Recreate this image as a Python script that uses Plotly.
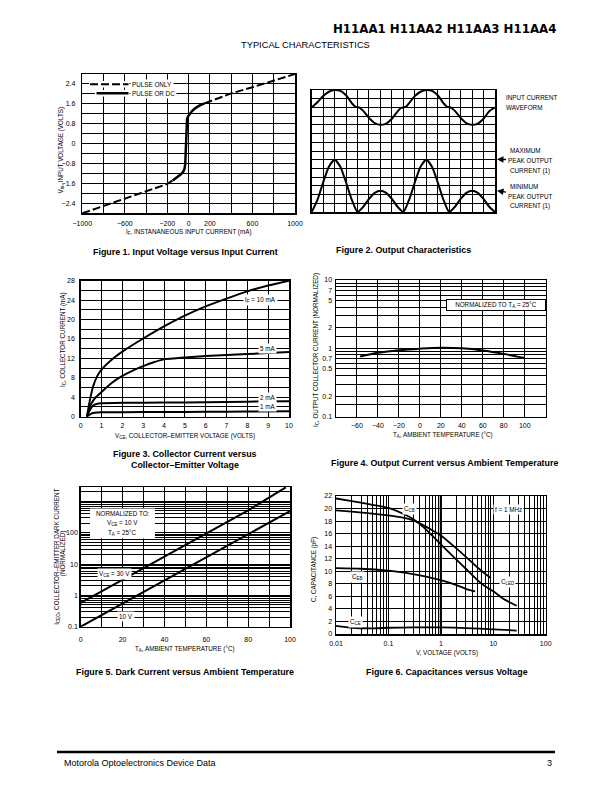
import plotly.graph_objects as go

W, H = 612, 792
FONT = "Liberation Sans, Arial, Helvetica, sans-serif"

# ---------------- data ----------------
# Figure 1: input voltage vs input current
f1_pulse_left_i = [-1000, -800, -600, -400, -200, -150]
f1_pulse_left_v = [-2.8, -2.5, -2.21, -1.91, -1.62, -1.48]
f1_pulse_right_i = [150, 200, 400, 600, 800, 1000]
f1_pulse_right_v = [1.62, 1.7, 2.02, 2.27, 2.53, 2.8]
f1_dc_i = [-150, -100, -70, -50, -38, -32, -29, -27, -25, -22, -15, -5, 10, 30, 60, 100, 150]
f1_dc_v = [-1.48, -1.33, -1.22, -1.12, -1.0, -0.8, -0.4, 0.0, 0.4, 0.75, 0.98, 1.1, 1.2, 1.3, 1.42, 1.53, 1.62]
f1_x_ticks = [-1000, -600, -200, 0, 200, 600, 1000]
f1_x_labels = ["−1000", "−600", "−200", "0", "200", "600", "1000"]
f1_x_grid = [-1000, -800, -600, -400, -200, 0, 200, 400, 600, 800, 1000]
f1_y_ticks = [-2.4, -1.6, -0.8, 0, 0.8, 1.6, 2.4]
f1_y_labels = ["−2.4", "−1.6", "−0.8", "0", "0.8", "1.6", "2.4"]
f1_y_grid = [-2.8, -2.4, -2.0, -1.6, -1.2, -0.8, -0.4, 0, 0.4, 0.8, 1.2, 1.6, 2.0, 2.4, 2.8]

# Figure 2: output characteristics (grid divisions)
f2_in_x = [0, 0.5, 1, 1.5, 2, 2.5, 3, 3.5, 3.8, 4.2, 4.5, 5, 5.5, 6, 6.5, 7, 7.5, 7.8, 8.2, 8.5,
           9, 9.5, 10, 10.5, 11, 11.5, 11.8, 12.2, 12.5, 13, 13.5, 14, 14.5, 15, 15.5, 16]
f2_in_y = [12.0, 12.6, 13.3, 13.8, 14.0, 13.9, 13.4, 12.5, 12.1, 11.95, 11.6, 10.8, 10.2, 10.0, 10.15, 10.7, 11.55, 11.95, 12.05, 12.5,
           13.3, 13.8, 14.0, 13.9, 13.4, 12.5, 12.1, 11.95, 11.6, 10.8, 10.2, 10.0, 10.15, 10.7, 11.55, 12.0]
f2_out_x = [0, 0.5, 1, 1.5, 2, 2.5, 3, 3.5, 4, 4.5, 5, 5.5, 6, 6.5, 7, 7.5, 8,
            8.5, 9, 9.5, 10, 10.5, 11, 11.5, 12, 12.5, 13, 13.5, 14, 14.5, 15, 15.5, 16]
f2_out_y = [0, 1.4, 3.4, 5.2, 6.0, 5.2, 3.4, 1.4, 0, 0.6, 1.5, 2.2, 2.45, 2.2, 1.5, 0.6, 0,
            1.4, 3.4, 5.2, 6.0, 5.2, 3.4, 1.4, 0, 0.6, 1.5, 2.2, 2.45, 2.2, 1.5, 0.6, 0]
f2_x_grid = list(range(0, 17))
f2_y_grid = list(range(0, 15))

# Figure 3: collector current vs collector-emitter voltage
f3_v_10 = [0.3, 0.4, 0.5, 0.6, 0.8, 1, 1.5, 2, 3, 4, 5, 6, 7, 8, 9, 10]
f3_i_10 = [0, 2.5, 4.6, 6.3, 8.4, 9.7, 11.8, 13.4, 16.1, 18.6, 20.8, 22.7, 24.3, 25.8, 27.0, 28.0]
f3_v_5 = [0.3, 0.4, 0.5, 0.7, 1, 1.5, 2, 2.5, 3, 3.5, 4, 5, 6, 7, 8, 9, 10]
f3_i_5 = [0, 1.5, 2.6, 3.9, 5.1, 7.0, 8.4, 9.5, 10.4, 11.2, 11.8, 12.2, 12.5, 12.7, 12.9, 13.1, 13.3]
f3_v_2 = [0.3, 0.4, 0.5, 0.6, 0.8, 1, 2, 4, 6, 8, 10]
f3_i_2 = [0, 1.0, 1.8, 2.3, 2.65, 2.75, 2.85, 2.9, 3.0, 3.1, 3.2]
f3_v_1 = [0.3, 0.4, 0.5, 0.6, 0.8, 1, 2, 4, 6, 8, 10]
f3_i_1 = [0, 0.35, 0.6, 0.75, 0.85, 0.9, 0.93, 0.97, 1.0, 1.05, 1.1]
f3_x_ticks = [0, 1, 2, 3, 4, 5, 6, 7, 8, 9, 10]
f3_x_labels = ["0", "1", "2", "3", "4", "5", "6", "7", "8", "9", "10"]
f3_y_ticks = [0, 4, 8, 12, 16, 20, 24, 28]
f3_y_labels = ["0", "4", "8", "12", "16", "20", "24", "28"]
f3_y_grid = [0, 2, 4, 6, 8, 10, 12, 14, 16, 18, 20, 22, 24, 26, 28]

# Figure 4: output current vs ambient temperature
f4_temp = [-57, -40, -20, 0, 20, 40, 60, 80, 100]
f4_ic = [0.76, 0.86, 0.94, 0.99, 1.02, 1.0, 0.93, 0.83, 0.72]
f4_x_ticks = [-60, -40, -20, 0, 20, 40, 60, 80, 100]
f4_x_labels = ["−60", "−40", "−20", "0", "20", "40", "60", "80", "100"]
f4_x_grid = [-80, -60, -40, -20, 0, 20, 40, 60, 80, 100, 120]
f4_y_ticks = [0.1, 0.2, 0.5, 0.7, 1, 2, 5, 7, 10]
f4_y_labels = ["0.1", "0.2", "0.5", "0.7", "1", "2", "5", "7", "10"]
f4_y_grid = [0.1, 0.15, 0.2, 0.3, 0.4, 0.5, 0.6, 0.7, 0.8, 0.9, 1, 1.5, 2, 3, 4, 5, 6, 7, 8, 9, 10]

# Figure 5: dark current vs ambient temperature
f5_temp_30 = [0, 20, 40, 60, 80, 98]
f5_i_30 = [0.58, 3.2, 17.5, 95, 520, 2800]
f5_temp_10 = [0, 20, 40, 60, 80, 100]
f5_i_10 = [0.1, 0.55, 3.0, 16, 90, 490]
f5_x_ticks = [0, 20, 40, 60, 80, 100]
f5_x_labels = ["0", "20", "40", "60", "80", "100"]
f5_x_grid = [0, 10, 20, 30, 40, 50, 60, 70, 80, 90, 100]
f5_y_ticks = [0.1, 1, 10, 100]
f5_y_labels = ["0.1", "1", "10", "100"]
f5_y_decades = [0.1, 1, 10, 100, 1000]

# Figure 6: capacitances vs voltage
f6_v_cb = [0.01, 0.02, 0.05, 0.1, 0.2, 0.3, 0.5, 0.7, 1, 2, 3, 5, 7, 10, 15, 20, 28]
f6_c_cb = [21.6, 21.2, 20.6, 20.1, 19.1, 18.3, 16.8, 15.6, 14.3, 11.8, 10.4, 8.6, 7.6, 6.8, 5.7, 5.1, 4.5]
f6_v_led = [0.01, 0.02, 0.05, 0.1, 0.2, 0.3, 0.5, 0.7, 1, 2, 3, 5, 7, 9]
f6_c_led = [19.7, 19.5, 19.2, 18.9, 18.5, 18.1, 17.2, 16.5, 15.7, 13.6, 12.3, 10.6, 9.6, 8.9]
f6_v_eb = [0.01, 0.03, 0.1, 0.2, 0.5, 1, 2, 3, 4.5]
f6_c_eb = [10.5, 10.4, 10.1, 9.8, 9.2, 8.6, 7.8, 7.2, 6.8]
f6_v_ce = [0.01, 0.02, 0.05, 0.1, 0.3, 1, 3, 10, 28]
f6_c_ce = [1.3, 1.0, 0.9, 1.0, 1.05, 1.05, 0.95, 0.75, 0.55]
f6_x_ticks = [0.01, 0.1, 1, 10, 100]
f6_x_labels = ["0.01", "0.1", "1", "10", "100"]
f6_x_decades = [0.01, 0.1, 1, 10]
f6_y_ticks = [0, 2, 4, 6, 8, 10, 12, 14, 16, 18, 20, 22]
f6_y_labels = ["0", "2", "4", "6", "8", "10", "12", "14", "16", "18", "20", "22"]


# ---------------- helpers ----------------
def X(p):
    return p / W


def Y(p):
    return 1 - p / H


def log_grid(decades, top=None):
    vals = [d * m for d in decades for m in range(1, 10)]
    if top is not None:
        vals.append(top)
    return vals


def axis(dom, rng, tickvals, ticktext, grid, anchor, log=False, ticklen=3, labels=True):
    d = dict(domain=dom, range=rng, tickmode="array", tickvals=tickvals, ticktext=ticktext,
             showgrid=True, gridcolor="black", gridwidth=1, showline=True, linecolor="black",
             linewidth=1.5, mirror=True, zeroline=False, ticks="outside", ticklen=ticklen,
             tickcolor="rgba(0,0,0,0)", showticklabels=labels, automargin=False,
             minor=dict(tickmode="array", tickvals=grid, showgrid=True, gridcolor="black",
                        gridwidth=1, ticks=""),
             tickfont=dict(size=7, family=FONT, color="black"), anchor=anchor, fixedrange=True)
    if log:
        d["type"] = "log"
    return d


fig = go.Figure()
LINE = dict(color="black", width=2)

# Figure 1
f1_pulse_i = f1_pulse_left_i + [None] + f1_pulse_right_i
f1_pulse_v = f1_pulse_left_v + [None] + f1_pulse_right_v
fig.add_trace(go.Scatter(x=f1_pulse_i, y=f1_pulse_v, xaxis="x", yaxis="y", mode="lines",
                         line=dict(color="black", width=2, dash="8px,3px"), hoverinfo="skip"))
fig.add_trace(go.Scatter(x=f1_dc_i, y=f1_dc_v, xaxis="x", yaxis="y", mode="lines",
                         line=dict(color="black", width=2.5), hoverinfo="skip"))

# Figure 2
fig.add_trace(go.Scatter(x=f2_in_x, y=f2_in_y, xaxis="x2", yaxis="y2", mode="lines",
                         line=dict(color="black", width=2, shape="spline", smoothing=0.8), hoverinfo="skip"))
fig.add_trace(go.Scatter(x=f2_out_x, y=f2_out_y, xaxis="x2", yaxis="y2", mode="lines",
                         line=dict(color="black", width=2, shape="spline", smoothing=0.6), hoverinfo="skip"))

# Figure 3
for vx, iy in [(f3_v_10, f3_i_10), (f3_v_5, f3_i_5), (f3_v_2, f3_i_2), (f3_v_1, f3_i_1)]:
    fig.add_trace(go.Scatter(x=vx, y=iy, xaxis="x3", yaxis="y3", mode="lines",
                             line=dict(color="black", width=2, shape="spline", smoothing=0.5), hoverinfo="skip"))

# Figure 4
fig.add_trace(go.Scatter(x=f4_temp, y=f4_ic, xaxis="x4", yaxis="y4", mode="lines",
                         line=dict(color="black", width=2, shape="spline"), hoverinfo="skip"))

# Figure 5
fig.add_trace(go.Scatter(x=f5_temp_30, y=f5_i_30, xaxis="x5", yaxis="y5", mode="lines",
                         line=LINE, hoverinfo="skip"))
fig.add_trace(go.Scatter(x=f5_temp_10, y=f5_i_10, xaxis="x5", yaxis="y5", mode="lines",
                         line=LINE, hoverinfo="skip"))

# Figure 6
for vx, cy in [(f6_v_cb, f6_c_cb), (f6_v_led, f6_c_led), (f6_v_eb, f6_c_eb), (f6_v_ce, f6_c_ce)]:
    fig.add_trace(go.Scatter(x=vx, y=cy, xaxis="x6", yaxis="y6", mode="lines",
                             line=dict(color="black", width=1.8, shape="spline", smoothing=0.6), hoverinfo="skip"))

f5_y_grid = log_grid(f5_y_decades, top=None)
f6_x_grid = log_grid(f6_x_decades, top=100)

layout = dict(
    width=W, height=H, autosize=False, margin=dict(l=0, r=0, t=0, b=0, pad=0, autoexpand=False),
    paper_bgcolor="white", plot_bgcolor="white", showlegend=False,
    font=dict(family=FONT, color="black"),
    xaxis=axis([X(82.3), X(295)], [-1000, 1000], f1_x_ticks, f1_x_labels, f1_x_grid, "y", ticklen=3),
    yaxis=axis([Y(213.3), Y(74)], [-2.8, 2.8], f1_y_ticks, f1_y_labels, f1_y_grid, "x", ticklen=4),
    xaxis2=axis([X(311.7), X(495)], [0, 16], [], [], f2_x_grid, "y2", labels=False),
    yaxis2=axis([Y(212), Y(90)], [0, 14], [], [], f2_y_grid, "x2", labels=False),
    xaxis3=axis([X(80.7), X(289)], [0, 10], f3_x_ticks, f3_x_labels, f3_x_ticks, "y3", ticklen=1),
    yaxis3=axis([Y(416.7), Y(280.7)], [0, 28], f3_y_ticks, f3_y_labels, f3_y_grid, "x3", ticklen=3),
    xaxis4=axis([X(336), X(545.7)], [-80, 120], f4_x_ticks, f4_x_labels, f4_x_grid, "y4", ticklen=1),
    yaxis4=axis([Y(416.7), Y(280)], [-1, 1], f4_y_ticks, f4_y_labels, f4_y_grid, "x4", log=True, ticklen=1),
    xaxis5=axis([X(80.7), X(290)], [0, 100], f5_x_ticks, f5_x_labels, f5_x_grid, "y5", ticklen=5),
    yaxis5=axis([Y(626.7), Y(487)], [-1, 3.46], f5_y_ticks, f5_y_labels, f5_y_grid, "x5", log=True, ticklen=0),
    xaxis6=axis([X(336), X(545.7)], [-2, 2], f6_x_ticks, f6_x_labels, f6_x_grid, "y6", log=True, ticklen=2),
    yaxis6=axis([Y(634), Y(496)], [0, 22], f6_y_ticks, f6_y_labels, f6_y_ticks, "x6", ticklen=1),
)
fig.update_layout(**layout)

ann = []
CAP = 8.9


def text(t, x, y, size=6.3, bold=False, xanchor="center", angle=0, bg=None, family=FONT, **kw):
    d = dict(text=("<b>%s</b>" % t) if bold else t, x=X(x), y=Y(y), xref="paper", yref="paper",
             xanchor=xanchor, yanchor="middle", showarrow=False, textangle=angle,
             font=dict(size=size, family=family, color="black"), borderpad=1)
    if bg:
        d["bgcolor"] = bg
    d.update(kw)
    ann.append(d)


# header / footer
text("H11AA1 H11AA2 H11AA3 H11AA4", 444, 29, size=11.8, bold=True,
     family="DejaVu Sans, Liberation Sans, sans-serif")
text("TYPICAL CHARACTERISTICS", 305, 45, size=9.3)
text("Motorola Optoelectronics Device Data", 62, 763, size=9, xanchor="left")
text("3", 554, 763, size=9, xanchor="right")

# Figure 1 texts
text("PULSE ONLY", 129.5, 84.3, size=6.3, xanchor="left", bg="white")
text("PULSE OR DC", 129.5, 93.3, size=6.3, xanchor="left", bg="white")
text("I<sub>F</sub>, INSTANANEOUS INPUT CURRENT (mA)", 189, 232, size=6.3)
text("V<sub>in</sub>, INPUT VOLTAGE (VOLTS)", 60.5, 150, size=6.3, angle=-90)
text("Figure 1. Input Voltage versus Input Current", 185, 252, size=CAP, bold=True)

# Figure 2 texts
text("INPUT CURRENT", 504, 97.3, xanchor="left")
text("WAVEFORM", 504, 107.3, xanchor="left")
text("MAXIMUM", 508, 150, xanchor="left")
text("CURRENT (1)", 508, 170.7, xanchor="left")
text("MINIMUM", 508, 186.7, xanchor="left")
text("CURRENT (1)", 508, 205.7, xanchor="left")
for ya, yt in ((159.3, 160), (190.7, 196.3)):
    ann.append(dict(text="PEAK OUTPUT", x=X(497), y=Y(ya), xref="paper", yref="paper",
                    showarrow=True, arrowhead=2, arrowsize=1, arrowwidth=1.3, arrowcolor="black",
                    ax=33, ay=yt - ya, font=dict(size=6.3, family=FONT, color="black"), standoff=0))
text("Figure 2. Output Characteristics", 403, 250, size=CAP, bold=True)

# Figure 3 texts
text("I<sub>F</sub> = 10 mA", 260.8, 300.3, bg="white")
text("5 mA", 267.5, 348.7, bg="white")
text("2 mA", 267.5, 397.3, bg="white")
text("1 mA", 267.5, 407, bg="white")
text("V<sub>CE</sub>, COLLECTOR–EMITTER VOLTAGE (VOLTS)", 184.5, 435.5)
text("I<sub>C</sub>, COLLECTOR CURRENT (mA)", 63, 340, angle=-90)
text("Figure 3. Collector Current versus", 184.5, 454, size=CAP, bold=True)
text("Collector–Emitter Voltage", 184.5, 464.5, size=CAP, bold=True)

# Figure 4 texts
text("NORMALIZED TO T<sub>A</sub> = 25°C", 545.7, 304.5, xanchor="right", bg="white",
     bordercolor="black", borderwidth=1, width=96)
text("T<sub>A</sub>, AMBIENT TEMPERATURE (°C)", 443, 434.5)
text("I<sub>C</sub>, OUTPUT COLLECTOR CURRENT (NORMALIZED)", 316, 350, angle=-90)
text("Figure 4. Output Current versus Ambient Temperature", 444, 463, size=CAP, bold=True)

# Figure 5 texts
text("NORMALIZED TO:", 122.5, 513.5)
text("V<sub>CE</sub> = 10 V", 122.5, 523)
text("T<sub>A</sub> = 25°C", 122.5, 533)
text("V<sub>CE</sub> = 30 V", 114, 574, bg="white")
text("10 V", 126.5, 616, bg="white")
text("T<sub>A</sub>, AMBIENT TEMPERATURE (°C)", 184.5, 648.5)
text("I<sub>CEO</sub>, COLLECTOR–EMITTER DARK CURRENT", 56.7, 557, angle=-90)
text("(NORMALIZED)", 63.2, 554, angle=-90)
text("Figure 5. Dark Current versus Ambient Temperature", 184.5, 672, size=CAP, bold=True)

# Figure 6 texts
text("C<sub>CB</sub>", 410, 509.3, bg="white")
text("f = 1 MHz", 508, 509.3, bg="white")
text("C<sub>EB</sub>", 357, 576.7, bg="white")
text("C<sub>LED</sub>", 507, 581.7, bg="white")
text("C<sub>CE</sub>", 355, 621.7, bg="white")
text("V, VOLTAGE (VOLTS)", 447, 652.5)
text("C, CAPACITANCE (pF)", 314, 570, angle=-90)
text("Figure 6. Capacitances versus Voltage", 447, 672, size=CAP, bold=True)

shapes = [
    # Figure 1 legend line samples (paper coordinates)
    dict(type="rect", xref="paper", yref="paper", x0=X(89), x1=X(129.5), y0=Y(87.5), y1=Y(81),
         fillcolor="white", line=dict(width=0), layer="above"),
    dict(type="rect", xref="paper", yref="paper", x0=X(95), x1=X(129.5), y0=Y(96.5), y1=Y(90),
         fillcolor="white", line=dict(width=0), layer="above"),
    dict(type="line", xref="paper", yref="paper", x0=X(90), x1=X(128.5), y0=Y(84.3), y1=Y(84.3),
         line=dict(color="black", width=2, dash="8px,3px"), layer="above"),
    dict(type="line", xref="paper", yref="paper", x0=X(96.5), x1=X(128.5), y0=Y(93.3), y1=Y(93.3),
         line=dict(color="black", width=2.5), layer="above"),
    # Figure 5 note box
    dict(type="rect", xref="paper", yref="paper", x0=X(90), x1=X(155), y0=Y(538.5), y1=Y(508.5),
         fillcolor="white", line=dict(width=0), layer="above"),
    # Figure 6 heavier 1 V grid line
    dict(type="line", xref="x6", yref="y6 domain", x0=1, x1=1, y0=0, y1=1,
         line=dict(color="black", width=2.2), layer="below"),
    # footer rule
    dict(type="line", xref="paper", yref="paper", x0=X(57), x1=X(555), y0=Y(752), y1=Y(752),
         line=dict(color="black", width=2.5)),
]

fig.update_layout(annotations=ann, shapes=shapes)
fig.write_html(
    "out.html",
    config={"displayModeBar": False, "responsive": False, "staticPlot": True},
    post_script=("document.documentElement.style.margin='0px';"
                 "document.documentElement.style.overflow='hidden';"
                 "document.body.style.margin='0px';"
                 "document.body.style.overflow='hidden';"),
)
